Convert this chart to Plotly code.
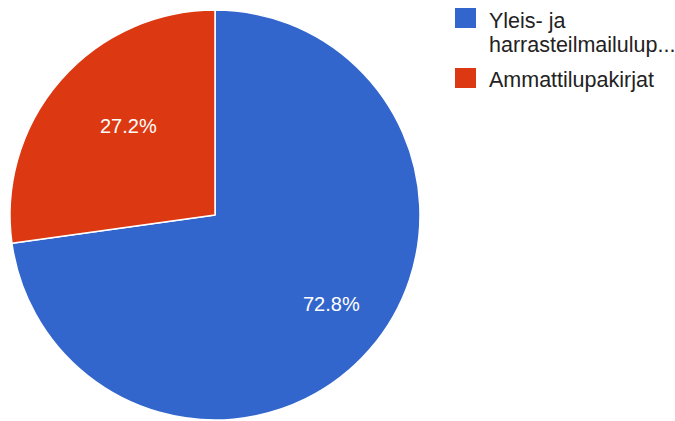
import math
import plotly.graph_objects as go

# Share of licences by type
labels = ["Yleis- ja<br>harrasteilmailulup...", "Ammattilupakirjat"]
values = [72.8, 27.2]
colors = ["#3366CC", "#DC3912"]

W, H = 675, 421
cx, cy, r = 215, 215, 205  # pie centre and radius in pixels
FONT = "Arial, Liberation Sans, sans-serif"


def px_x(x):
    return x / W


def px_y(y):
    return 1 - y / H


fig = go.Figure()
fig.add_trace(go.Pie(
    labels=labels,
    values=values,
    sort=False,
    direction="clockwise",
    rotation=0,
    marker=dict(colors=colors, line=dict(color="white", width=1.5)),
    textinfo="none",
    hoverinfo="label+percent",
    domain=dict(x=[px_x(cx - r), px_x(cx + r)], y=[px_y(cy + r), px_y(cy - r)]),
    showlegend=False,
))

# Percentage labels placed at each slice's mid-angle
total = sum(values)
start = 0.0
for v in values:
    mid = (start + v / 2) / total * 2 * math.pi
    start += v
    rr = 0.755 * r
    fig.add_annotation(
        x=px_x(cx + rr * math.sin(mid)), y=px_y(cy - rr * math.cos(mid)),
        xref="paper", yref="paper",
        text=f"{v / total * 100:.1f}%", showarrow=False,
        font=dict(family=FONT, size=20, color="white"),
    )

# Legend: coloured square plus label lines
sq_x0, sq = 455, 21
text_x = 487
line_gap = 24.5
row_top = [8, 68]
for lab, col, top in zip(labels, colors, row_top):
    fig.add_shape(
        type="rect", xref="paper", yref="paper",
        x0=px_x(sq_x0), x1=px_x(sq_x0 + sq), y0=px_y(top + sq - 1), y1=px_y(top),
        fillcolor=col, line=dict(width=0),
    )
    for i, line in enumerate(lab.split("<br>")):
        mid_y = top + 12.5 + i * line_gap
        fig.add_annotation(
            x=px_x(text_x), y=px_y(mid_y), xref="paper", yref="paper",
            xanchor="left", yanchor="middle",
            text=line, showarrow=False,
            font=dict(family=FONT, size=21.5, color="#222222"),
        )

fig.update_layout(
    width=W, height=H,
    margin=dict(l=0, r=0, t=0, b=0),
    paper_bgcolor="white",
    plot_bgcolor="white",
    showlegend=False,
)

fig.write_html("out.html")
